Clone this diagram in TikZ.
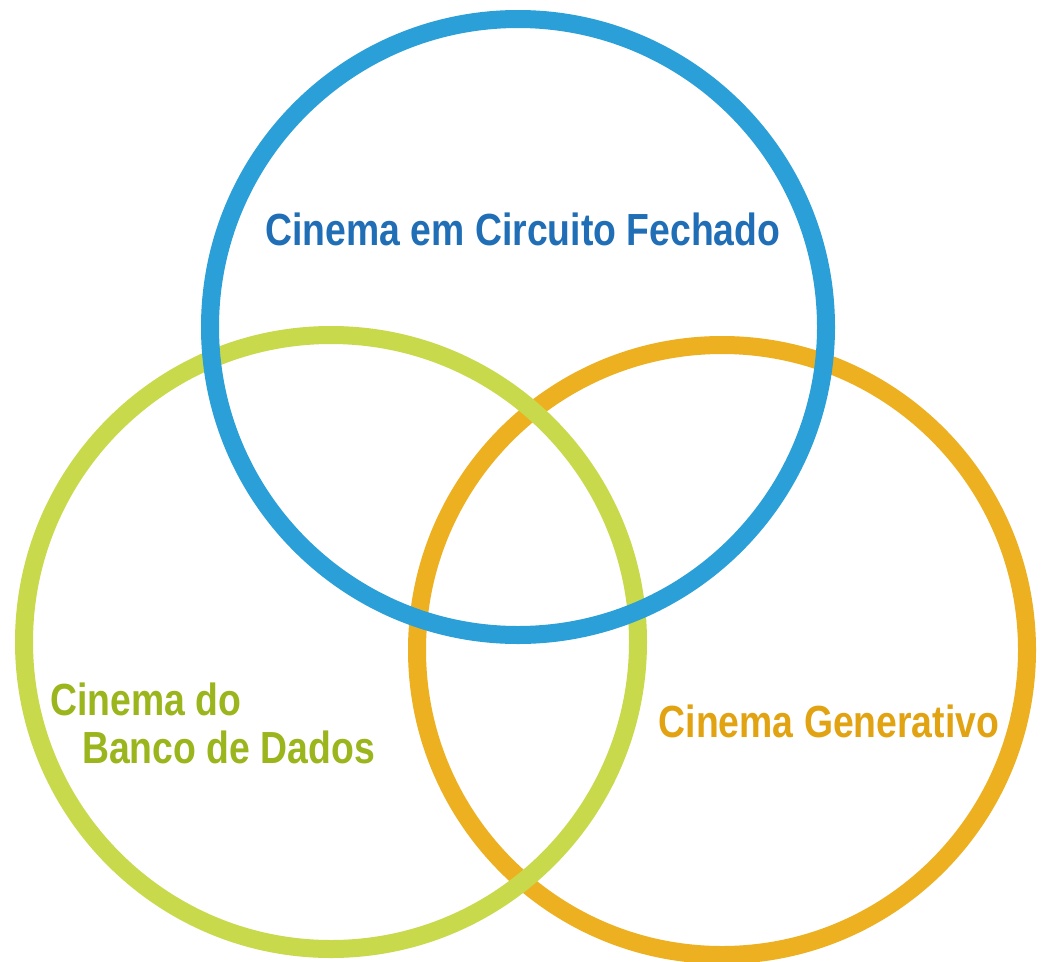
\documentclass[tikz,border=0pt]{standalone}
\usepackage{fontspec}
\setmainfont{Liberation Sans}
\definecolor{cblue}{HTML}{2A9FD8}
\definecolor{tblue}{HTML}{1F6EB6}
\definecolor{cgreen}{HTML}{C8DA4C}
\definecolor{tgreen}{HTML}{9BB51C}
\definecolor{corange}{HTML}{EDB021}
\definecolor{torange}{HTML}{E2A312}
\begin{document}
\begin{tikzpicture}[x=1pt,y=-1pt,
  ring/.style={line width=18pt},
  lbl/.style={font=\bfseries\fontsize{45}{52}\selectfont, inner sep=0pt, xscale=0.83}]
\useasboundingbox (0,0) rectangle (1043,961);
\fill[white] (0,0) rectangle (1043,961);
\node[circle, draw=corange, ring, minimum size=610pt, inner sep=0pt] (orange) at (722,650) {};
\node[circle, draw=cgreen, ring, minimum size=614pt, inner sep=0pt] (green) at (331,642) {};
\node[circle, draw=cblue, ring, minimum size=616pt, inner sep=0pt] (blue) at (518,327) {};
\node[lbl, text=tblue, anchor=base] (tb) at (523,245) {Cinema em Circuito Fechado};
\node[lbl, text=tgreen, anchor=base west] (tg1) at (50,715) {Cinema do};
\node[lbl, text=tgreen, anchor=base west] (tg2) at (82,763) {Banco de Dados};
\node[lbl, text=torange, anchor=base] (to) at (829,737) {Cinema Generativo};
\end{tikzpicture}
\end{document}
